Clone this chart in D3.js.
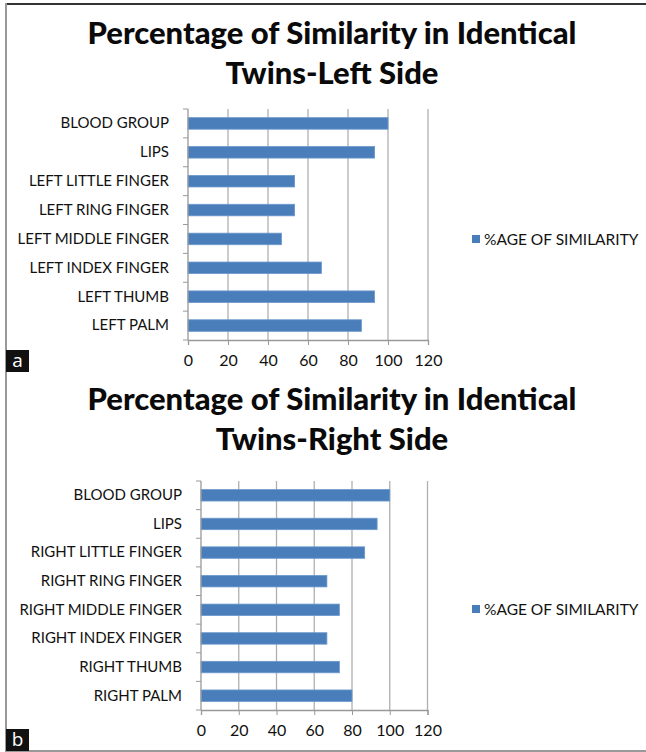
<!DOCTYPE html>
<html>
<script src='https://d3js.org/d3.v7.min.js'></script>
<style>
 body {margin:0; background:#fff;}
 text {font-family: Lato, 'Open Sans', sans-serif; fill:#111;}
</style>
<body onload='init()'>
<svg width=646 height=752></svg>
<script>

// chart data
var leftTitle = ["Percentage of Similarity in Identical", "Twins-Left Side"];
var rightTitle = ["Percentage of Similarity in Identical", "Twins-Right Side"];
var leftCategories = ["BLOOD GROUP","LIPS","LEFT LITTLE FINGER","LEFT RING FINGER",
  "LEFT MIDDLE FINGER","LEFT INDEX FINGER","LEFT THUMB","LEFT PALM"];
var leftValues = [100,93.3,53.3,53.3,46.7,66.7,93.3,86.7];
var rightCategories = ["BLOOD GROUP","LIPS","RIGHT LITTLE FINGER","RIGHT RING FINGER",
  "RIGHT MIDDLE FINGER","RIGHT INDEX FINGER","RIGHT THUMB","RIGHT PALM"];
var rightValues = [100,93.3,86.7,66.7,73.3,66.7,73.3,80];
var xTicks = [0,20,40,60,80,100,120];
var seriesName = "%AGE OF SIMILARITY";

function init() {
 var svg = d3.select('svg');

 // outer frame
 svg.append('line').attr('x1',6).attr('x2',646).attr('y1',4).attr('y2',4)
   .attr('stroke','#333').attr('stroke-width',2);
 svg.append('line').attr('x1',6).attr('x2',6).attr('y1',3).attr('y2',752)
   .attr('stroke','#999').attr('stroke-width',2);
 svg.append('line').attr('x1',6).attr('x2',646).attr('y1',751).attr('y2',751)
   .attr('stroke','#999').attr('stroke-width',2);

 drawPanel(svg, {title:leftTitle, cats:leftCategories, vals:leftValues,
   x0:188, x1:428, y0:109, y1:340, titleY:32, legendY:239, tag:'a', tagY:350});
 drawPanel(svg, {title:rightTitle, cats:rightCategories, vals:rightValues,
   x0:201, x1:427.5, y0:481, y1:710, titleY:398, legendY:609, tag:'b', tagY:729});
}

function drawPanel(svg, p) {
 var x = d3.scaleLinear().domain([0,120]).range([p.x0,p.x1]);
 var y = d3.scaleBand().domain(p.cats).range([p.y0,p.y1]).paddingInner(0.6).paddingOuter(0.3);
 var g = svg.append('g');

 // title
 g.selectAll('.title').data(p.title).enter().append('text')
   .attr('x',332).attr('y',function(d,i){ return p.titleY + i*40; })
   .attr('text-anchor','middle').attr('dominant-baseline','central')
   .style('font-size','31px').style('font-weight','900').style('fill','#0a0a0a')
   .text(function(d){ return d; });

 // gridlines
 g.selectAll('.grid').data(xTicks.slice(1)).enter().append('line')
   .attr('x1',function(d){ return x(d); }).attr('x2',function(d){ return x(d); })
   .attr('y1',p.y0).attr('y2',p.y1)
   .attr('stroke','#b0b0b0').attr('stroke-width',1.3);

 // bars
 g.selectAll('rect').data(p.vals).enter().append('rect')
   .attr('x',x(0))
   .attr('y',function(d,i){ return y(p.cats[i]); })
   .attr('width',function(d){ return x(d)-x(0); })
   .attr('height',y.bandwidth())
   .attr('fill','#4a7ebb').attr('stroke','#6a98cc').attr('stroke-width',0.8);

 // y axis
 var yAxis = g.append('g').attr('transform','translate('+p.x0+',0)')
   .call(d3.axisLeft(y).tickSize(0).tickPadding(19));
 yAxis.select('.domain').remove();
 yAxis.selectAll('text').style('font-size','15px').style('font-family','Lato, sans-serif').attr('fill','#111');
 var step = (p.y1-p.y0)/p.cats.length;
 g.selectAll('.ytick').data(d3.range(p.cats.length+1)).enter().append('line')
   .attr('x1',p.x0-5).attr('x2',p.x0)
   .attr('y1',function(d){ return p.y0+d*step; }).attr('y2',function(d){ return p.y0+d*step; })
   .attr('stroke','#999');
 g.append('line').attr('x1',p.x0).attr('x2',p.x0).attr('y1',p.y0).attr('y2',p.y1)
   .attr('stroke','#999').attr('stroke-width',1.3);

 // x axis
 var xAxis = g.append('g').attr('transform','translate(0,'+p.y1+')')
   .call(d3.axisBottom(x).tickValues(xTicks).tickSize(5).tickPadding(10));
 xAxis.select('.domain').attr('stroke','#999').attr('stroke-width',1.3);
 xAxis.selectAll('line').attr('stroke','#999');
 xAxis.selectAll('text').style('font-size','16px').style('font-family','Lato, sans-serif').attr('fill','#111');

 // legend
 g.append('rect').attr('x',472).attr('y',p.legendY-4).attr('width',8).attr('height',8)
   .attr('fill','#4a7ebb');
 g.append('text').attr('x',484).attr('y',p.legendY).attr('dominant-baseline','central')
   .style('font-size','15.5px').text(seriesName);

 // panel tag
 g.append('rect').attr('x',6).attr('y',p.tagY).attr('width',23).attr('height',22).attr('fill','#111');
 g.append('text').attr('x',17.5).attr('y',p.tagY+10).attr('text-anchor','middle')
   .attr('dominant-baseline','central').style('font-size','19px').style('fill','#fff')
   .style('font-family','Open Sans, sans-serif').text(p.tag);
}

</script>
</body>
</html>
